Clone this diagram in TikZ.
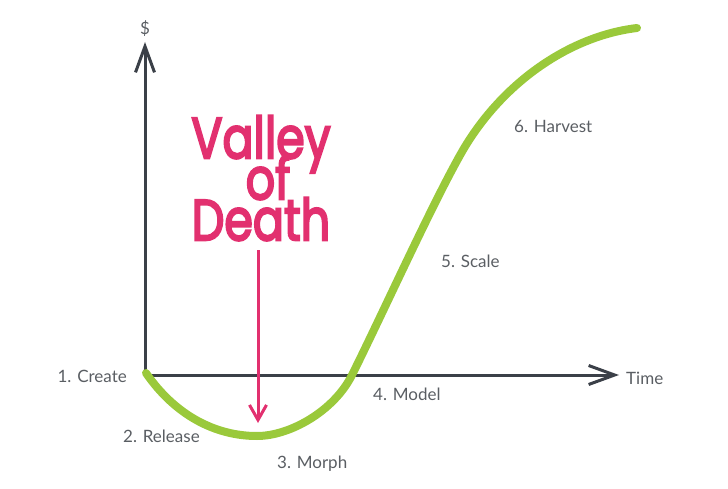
\documentclass[tikz,border=0pt]{standalone}
\usepackage{fontspec}
\usepackage{graphicx}
\setmainfont{Lato}
\newfontfamily\handfont[FakeBold=4]{Poppins}
\usetikzlibrary{arrows.meta}
\definecolor{axisgray}{HTML}{3B4048}
\definecolor{labelgray}{HTML}{5A5E63}
\definecolor{leafgreen}{HTML}{9AC93B}
\definecolor{hotpink}{HTML}{E2306F}
% one tall headline word, boxed to a fixed 30pt height and 11pt depth
\newcommand{\tallword}[1]{\raisebox{0pt}[30pt][11pt]{\scalebox{0.92}[1.15]{#1}}}
\begin{document}
\begin{tikzpicture}[x=1pt,y=-1pt,
  axis/.style={draw=axisgray,line width=3pt,
    -{Straight Barb[length=26pt,width=19pt,line width=3pt]}},
  stage/.style={text=labelgray,font=\fontsize{17}{20}\selectfont,inner sep=0pt},
  headline/.style={text=hotpink,align=center,inner sep=0pt,
    font=\handfont\fontsize{50}{41}\selectfont},
  lifecurve/.style={draw=leafgreen,line width=8pt,line cap=round,line join=round},
  pointer/.style={draw=hotpink,line width=3pt,
    -{Straight Barb[length=15pt,width=17pt,line width=3pt]}}]
\useasboundingbox (0,0) rectangle (728,489);

% axes
\coordinate (O) at (145,375);
\coordinate (ytop) at (145,42);
\coordinate (xend) at (619,378);
\draw[axis] (O) -- (ytop);
\draw[axis] ([xshift=-1.5pt]O) -- (xend |- O);

% the money curve over time
\coordinate (c0) at (146,373);
\coordinate (c1) at (257,436);
\coordinate (c2) at (352,375);
\coordinate (c3) at (463,150);
\coordinate (c4) at (637,28);
\draw[lifecurve] (c0)
  .. controls (175,415) and (215,436) .. (c1)
  .. controls (290,436) and (334,411) .. (c2)
  .. controls (382,315) and (433,202) .. (c3)
  .. controls (503,82) and (570,36) .. (c4);

% axis labels
\node[stage,anchor=south] (dollar) at (145,37) {\$};
\node[stage,anchor=west] (time) at (626,378) {Time};

% stages
\node[stage,anchor=east] (s1) at (127,376) {1. Create};
\node[stage,anchor=west] (s2) at (123,436) {2. Release};
\node[stage,anchor=west] (s3) at (277,464) {3. Morph};
\node[stage,anchor=west] (s4) at (373,394) {4. Model};
\node[stage,anchor=west] (s5) at (441,261) {5. Scale};
\node[stage,anchor=west] (s6) at (514,126) {6. Harvest};

% headline
\node[headline,anchor=north] (valley) at (261,128)
  {\tallword{Valley}\hspace{14pt}\\\hspace{14pt}\tallword{of}\\\tallword{Death}};

% pointer into the dip
\coordinate (ptop) at (258,250);
\coordinate (pbot) at (258,423);
\draw[pointer] (ptop) -- (pbot);
\end{tikzpicture}
\end{document}
